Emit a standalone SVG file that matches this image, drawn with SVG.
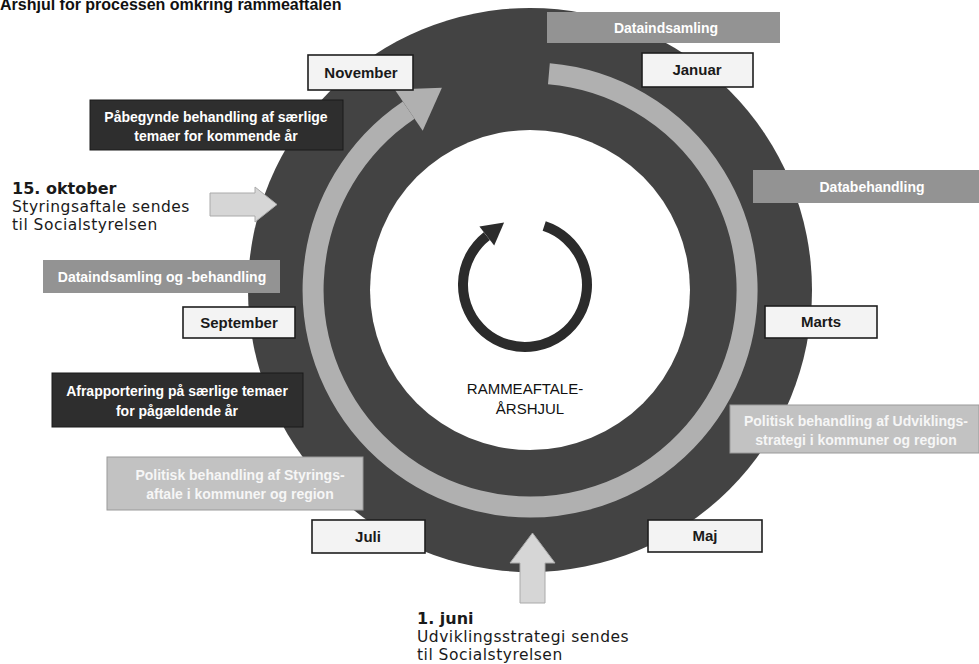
<svg xmlns="http://www.w3.org/2000/svg" width="979" height="664" viewBox="0 0 979 664">
<defs>
<style>
.title{font-family:"Liberation Sans",Arial,sans-serif;font-weight:bold;font-size:16px;fill:#111}
.mbox{fill:#f3f3f3;stroke:#1e1e1e;stroke-width:1.6}
.mtxt{font-family:"Liberation Sans",Arial,sans-serif;font-weight:bold;font-size:15px;fill:#1a1a1a;text-anchor:middle}
.dark{fill:#2e2e2e;stroke:#1a1a1a;stroke-width:1}
.mid{fill:#939393}
.light{fill:#c2c2c2;stroke:#9a9a9a;stroke-width:1}
.btxt{font-family:"Liberation Sans",Arial,sans-serif;font-weight:bold;font-size:14px;fill:#ffffff;text-anchor:middle}
.ltxt{font-family:"Liberation Sans",Arial,sans-serif;font-weight:bold;font-size:14px;fill:#f6f6f6;text-anchor:middle}
.note{font-family:"DejaVu Sans",Verdana,sans-serif;font-size:15.5px;letter-spacing:0.5px;fill:#1a1a1a}
.noteb{font-family:"DejaVu Sans",Verdana,sans-serif;font-size:16px;font-weight:bold;fill:#1a1a1a}
.center{font-family:"Liberation Sans",Arial,sans-serif;font-size:15px;fill:#111;text-anchor:middle}
.arrowfill{fill:#d6d6d6;stroke:#aaaaaa;stroke-width:1}
</style>
</defs>
<rect width="979" height="664" fill="#ffffff"/>

<text class="title" x="0" y="10">Årshjul for processen omkring rammeaftalen</text>

<g id="wheel">
<circle cx="530" cy="290" r="282" fill="#434343"/>
<circle cx="530" cy="290" r="160" fill="#ffffff"/>
<path d="M548.9,73.8 A217,217 0 1 1 408.7,110.1" fill="none" stroke="#b0b0b0" stroke-width="21"/>
<polygon points="394.7,89.4 422.7,130.8 441.9,87.7" fill="#b0b0b0"/>
<path d="M544.2,226 A62,62 0 1 1 486.8,236.1" fill="none" stroke="#2b2b2b" stroke-width="10"/>
<polygon points="479.4,226.6 494.2,245.6 504.1,222.5" fill="#2b2b2b"/>
<text class="center" x="525" y="394">RAMMEAFTALE-</text>
<text class="center" x="530" y="414">ÅRSHJUL</text>
</g>

<g id="dataindsamling">
<rect class="mid" x="547" y="12" width="233" height="31"/>
<text class="btxt" x="666" y="33">Dataindsamling</text>
</g>
<g id="januar">
<rect class="mbox" x="642" y="53" width="111" height="34"/>
<text class="mtxt" x="697" y="75">Januar</text>
</g>
<g id="november">
<rect class="mbox" x="308" y="55" width="105" height="35"/>
<text class="mtxt" x="361" y="78">November</text>
</g>
<g id="paabegynde">
<rect class="dark" x="90" y="100" width="253" height="50"/>
<text class="btxt" x="216" y="122">Påbegynde behandling af særlige</text>
<text class="btxt" x="216" y="141">temaer for kommende år</text>
</g>
<g id="oktober">
<text class="noteb" x="12" y="194">15. oktober</text>
<text class="note" x="12" y="212">Styringsaftale sendes</text>
<text class="note" x="12" y="230">til Socialstyrelsen</text>
</g>
<g id="databehandling">
<rect class="mid" x="753" y="170" width="226" height="33"/>
<text class="btxt" x="872" y="192">Databehandling</text>
</g>
<g id="dataindsamling-og-behandling">
<rect class="mid" x="43" y="260" width="237" height="33"/>
<text class="btxt" x="162" y="282">Dataindsamling og -behandling</text>
</g>
<g id="september">
<rect class="mbox" x="183" y="307" width="112" height="31"/>
<text class="mtxt" x="239" y="328">September</text>
</g>
<g id="marts">
<rect class="mbox" x="765" y="306" width="112" height="32"/>
<text class="mtxt" x="821" y="327">Marts</text>
</g>
<g id="afrapportering">
<rect class="dark" x="52" y="373" width="251" height="54"/>
<text class="btxt" x="177" y="396">Afrapportering på særlige temaer</text>
<text class="btxt" x="177" y="416">for pågældende år</text>
</g>
<g id="politisk-udvikling">
<rect class="light" x="730" y="405" width="249" height="48"/>
<text class="ltxt" x="856" y="426">Politisk behandling af Udviklings-</text>
<text class="ltxt" x="856" y="445">strategi i kommuner og region</text>
</g>
<g id="politisk-styring">
<rect class="light" x="107" y="457" width="256" height="53"/>
<text class="ltxt" x="240" y="480">Politisk behandling af Styrings-</text>
<text class="ltxt" x="240" y="499">aftale i kommuner og region</text>
</g>
<g id="juli">
<rect class="mbox" x="312" y="520" width="113" height="33"/>
<text class="mtxt" x="368" y="542">Juli</text>
</g>
<g id="maj">
<rect class="mbox" x="648" y="520" width="114" height="32"/>
<text class="mtxt" x="705" y="541">Maj</text>
</g>
<g id="juni">
<text class="noteb" x="417" y="624">1. juni</text>
<text class="note" x="417" y="642">Udviklingsstrategi sendes</text>
<text class="note" x="417" y="660">til Socialstyrelsen</text>
</g>

<g id="connectors">
<polygon class="arrowfill" points="210,193 255,193 255,187 277,204.5 255,222 255,216 210,216"/>
<polygon class="arrowfill" points="520,603 545,603 545,563 555,563 532.5,533 510,563 520,563"/>
</g>
</svg>
